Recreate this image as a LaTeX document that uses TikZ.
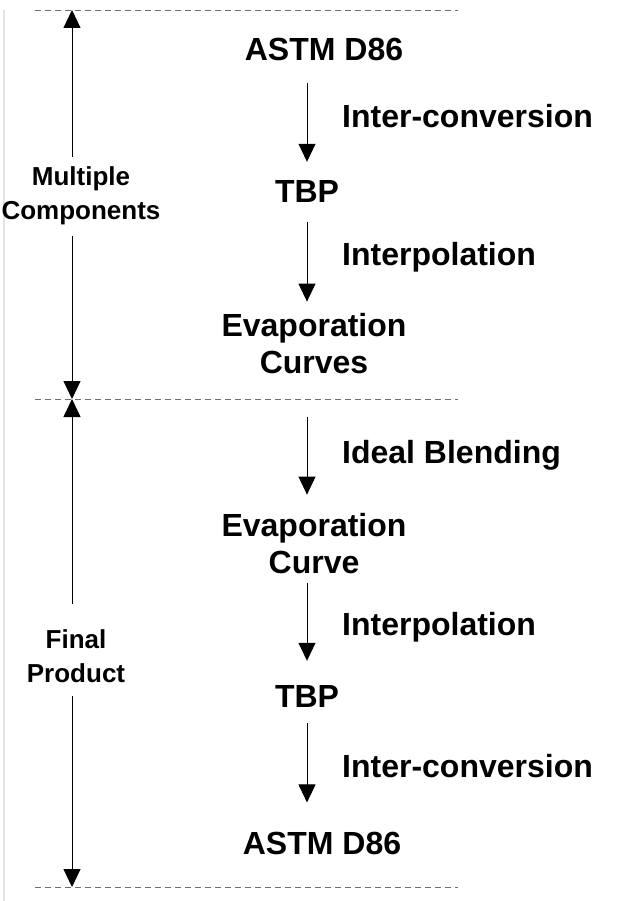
\documentclass[tikz,border=0pt]{standalone}
\usepackage{fontspec}
\setmainfont{Liberation Sans}
\usetikzlibrary{arrows.meta,positioning}
\definecolor{rule}{RGB}{110,110,110}
\definecolor{edge}{RGB}{228,228,228}
\tikzset{
  stage/.style={font=\fontsize{32}{37}\selectfont\bfseries,align=center,
                inner sep=0pt,anchor=base},
  how/.style={font=\fontsize{32}{37}\selectfont\bfseries,inner sep=0pt,
              anchor=base west},
  part/.style={font=\fontsize{26}{34}\selectfont\bfseries,align=center,
               inner xsep=0pt,inner ysep=10pt,anchor=base},
  arr/.style={-{Triangle[length=18pt,width=17pt]},line width=0.9pt},
  sep/.style={draw=rule,line width=0.8pt,dash pattern=on 6pt off 4pt},
}

\begin{document}
\begin{tikzpicture}[x=1pt,y=-1pt]
  \useasboundingbox (0,0) rectangle (616,901);
  \draw[edge,line width=1.2pt] (4,10) -- (4,901);

  % axes of the two columns
  \coordinate (axis) at (307,0);
  \coordinate (side) at (72,0);
  \coordinate (top) at (72,10);
  \coordinate (mid) at (72,399);
  \coordinate (bot) at (72,887);
  \draw[sep] (35,10) -- (458,10);
  \draw[sep] (35,399) -- (458,399);
  \draw[sep] (35,887) -- (458,887);

  % stages (base = last line)
  \node[stage] (astmA) at (324,61) {ASTM D86};
  \node[stage] (tbpA) at (307,203) {TBP};
  \node[stage] (evpA) at (314,373) {Evaporation\\Curves};
  \node[stage] (evpB) at (314,573) {Evaporation\\Curve};
  \node[stage] (tbpB) at (307,707) {TBP};
  \node[stage] (astmB) at (322,854) {ASTM D86};

  % steps
  \node[how] (convA) at (342,128) {Inter-conversion};
  \node[how] (intpA) at (342,265) {Interpolation};
  \node[how] (blend) at (342,463) {Ideal Blending};
  \node[how] (intpB) at (342,635) {Interpolation};
  \node[how] (convB) at (342,777) {Inter-conversion};

  \draw[arr,shorten <=21pt,shorten >=19pt] (astmA.south -| axis) -- (tbpA.north -| axis);
  \draw[arr,shorten <=19pt,shorten >=11pt] (tbpA.south -| axis) -- (evpA.north -| axis);
  \draw[arr,shorten <=43pt,shorten >=18pt] (evpA.south -| axis) -- (evpB.north -| axis);
  \draw[arr,shorten <=9pt,shorten >=24pt] (evpB.south -| axis) -- (tbpB.north -| axis);
  \draw[arr,shorten <=16pt,shorten >=29pt] (tbpB.south -| axis) -- (astmB.north -| axis);

  % ranges
  \node[part] (multi) at (81,220) {Multiple\\Components};
  \node[part,inner ysep=14pt] (fin) at (76,682) {Final\\Product};
  \draw[arr] (multi.north -| side) -- (top);
  \draw[arr] (multi.south -| side) -- (mid);
  \draw[arr,shorten <=11pt] (fin.north -| side) -- (mid);
  \draw[arr] (fin.south -| side) -- (bot);
\end{tikzpicture}
\end{document}
